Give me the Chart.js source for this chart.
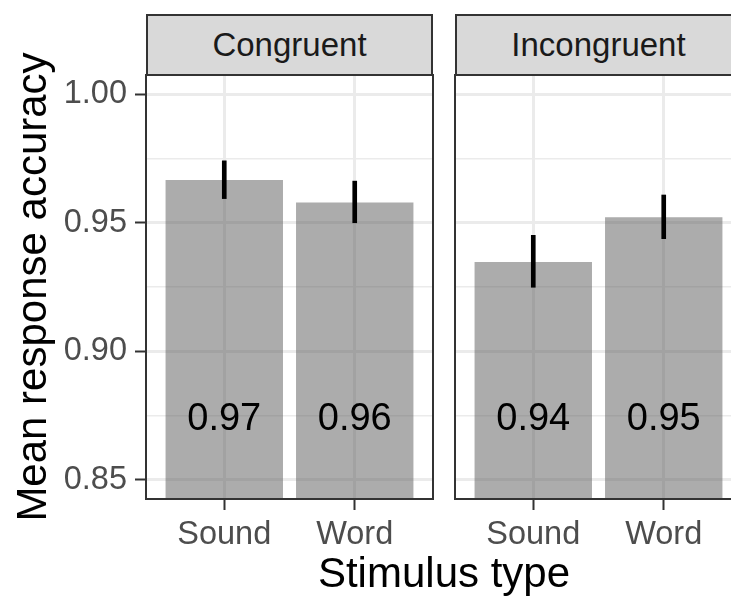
<!DOCTYPE html>
<html>
<head>
<meta charset="utf-8">
<script src="https://cdn.jsdelivr.net/npm/chart.js@4.4.1/dist/chart.umd.min.js"></script>
<style>
  body { margin: 0; background: #fff; }
  #wrap { position: relative; width: 731px; height: 598px; overflow: hidden; background: #fff; }
  canvas { position: absolute; top: 0; }
  .strip {
    position: absolute; top: 14px; width: 287px; height: 62px;
    box-sizing: border-box; border: 2px solid #333333; background: #d9d9d9;
    color: #1a1a1a; font: 33px "Liberation Sans", Arial, sans-serif;
    display: flex; align-items: center; justify-content: center;
  }
  #xtitle {
    position: absolute; left: 144px; width: 600px; top: 552px;
    text-align: center; font: 42px/42px "Liberation Sans", Arial, sans-serif; color: #000;
  }
</style>
</head>
<body>
<div id="wrap">
  <canvas id="leftPanel" width="440" height="598" style="left:0"></canvas>
  <canvas id="rightPanel" width="310" height="598" style="left:440px"></canvas>
  <div class="strip" style="left:146px">Congruent</div>
  <div class="strip" style="left:455px">Incongruent</div>
  <div id="xtitle">Stimulus type</div>
</div>
<script>
// data
var categories = ["Sound", "Word"];
var congruentMeans = [0.9666, 0.9579];
var congruentLow = [0.9594, 0.9500];
var congruentHigh = [0.9741, 0.9662];
var congruentLabels = ["0.97", "0.96"];
var incongruentMeans = [0.9347, 0.9521];
var incongruentLow = [0.9249, 0.9438];
var incongruentHigh = [0.9451, 0.9608];
var incongruentLabels = ["0.94", "0.95"];

var yMajor = [0.85, 0.90, 0.95, 1.00];
var yMinor = [0.875, 0.925, 0.975];
var yTickLabels = ["0.85", "0.90", "0.95", "1.00"];
var yMin = 0.8425, yMax = 1.0075;
var labelY = 0.875;

var fontFamily = '"Liberation Sans", Arial, sans-serif';

function isMajor(v) {
  return yMajor.indexOf(v) >= 0;
}

// border round the panel + the value labels inside the bars
var panelPlugin = {
  id: "panel",
  afterDatasetsDraw: function (chart) {
    var ctx = chart.ctx;
    var meta = chart.getDatasetMeta(0);
    var labels = chart.options.plugins.panel.labels;
    var y = chart.scales.y.getPixelForValue(labelY);
    ctx.save();
    ctx.fillStyle = "#000";
    ctx.font = "38px " + fontFamily;
    ctx.textAlign = "center";
    ctx.textBaseline = "alphabetic";
    meta.data.forEach(function (bar, i) {
      // digits centred on the label value
      ctx.fillText(labels[i], bar.x, y + 15);
    });
    ctx.restore();
  },
  afterDraw: function (chart) {
    var a = chart.chartArea;
    var ctx = chart.ctx;
    ctx.save();
    ctx.strokeStyle = "#333333";
    ctx.lineWidth = 2;
    ctx.strokeRect(a.left, a.top, a.right - a.left, a.bottom - a.top);
    ctx.restore();
  }
};

function makePanel(id, means, low, high, labels, showY) {
  var meanData = means.map(function (v, i) { return { x: i + 1, y: v }; });
  var errData = low.map(function (v, i) { return { x: i + 1, y: [v, high[i]] }; });

  return new Chart(document.getElementById(id), {
    type: "bar",
    data: {
      datasets: [
        {
          data: meanData,
          backgroundColor: "rgba(89,89,89,0.5)",
          barPercentage: 0.9,
          categoryPercentage: 1,
          grouped: false,
          order: 1
        },
        {
          data: errData,
          backgroundColor: "#000",
          barThickness: 4,
          grouped: false,
          order: 0
        }
      ]
    },
    options: {
      responsive: false,
      animation: false,
      devicePixelRatio: 1,
      layout: { padding: { top: 75, right: showY ? 7 : 8, left: 0, bottom: 0 } },
      plugins: {
        legend: { display: false },
        tooltip: { enabled: false },
        panel: { labels: labels }
      },
      scales: {
        x: {
          type: "linear",
          offset: false,
          min: 0.4,
          max: 2.6,
          afterBuildTicks: function (scale) {
            scale.ticks = categories.map(function (c, i) { return { value: i + 1 }; });
          },
          afterFit: function (scale) { scale.height = 99; },
          border: { display: false },
          grid: {
            offset: false,
            color: "#ebebeb",
            lineWidth: 3,
            tickColor: "#333333",
            tickWidth: 2,
            tickLength: 11
          },
          ticks: {
            autoSkip: false,
            maxRotation: 0,
            padding: 6,
            color: "#4d4d4d",
            font: { family: fontFamily, size: 32.5 },
            callback: function (value) { return categories[value - 1] || ""; }
          }
        },
        y: {
          min: yMin,
          max: yMax,
          afterBuildTicks: function (scale) {
            scale.ticks = yMajor.concat(yMinor).sort().map(function (v) { return { value: v }; });
          },
          afterFit: function (scale) { scale.width = showY ? 146 : 15; },
          border: { display: false },
          title: {
            display: showY,
            text: "Mean response accuracy",
            color: "#000",
            padding: { top: 9, bottom: 0 },
            font: { family: fontFamily, size: 42 }
          },
          grid: {
            color: "#ebebeb",
            lineWidth: function (c) { return isMajor(c.tick.value) ? 3 : 1.5; },
            drawTicks: showY,
            tickColor: function (c) { return isMajor(c.tick.value) ? "#333333" : "rgba(0,0,0,0)"; },
            tickWidth: 2,
            tickLength: 11
          },
          ticks: {
            display: showY,
            autoSkip: false,
            padding: 8,
            color: "#4d4d4d",
            font: { family: fontFamily, size: 32.5 },
            callback: function (value) {
              var i = yMajor.indexOf(value);
              return i >= 0 ? yTickLabels[i] : "";
            }
          }
        }
      }
    },
    plugins: [panelPlugin]
  });
}

makePanel("leftPanel", congruentMeans, congruentLow, congruentHigh, congruentLabels, true);
makePanel("rightPanel", incongruentMeans, incongruentLow, incongruentHigh, incongruentLabels, false);
</script>
</body>
</html>
